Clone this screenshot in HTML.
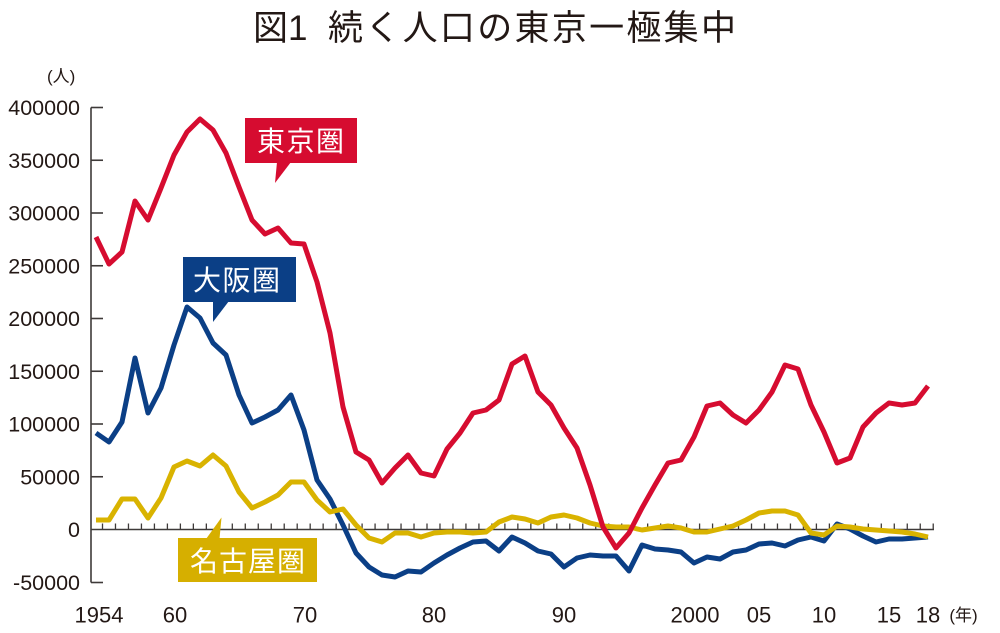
<!DOCTYPE html>
<html>
<head>
<meta charset="utf-8">
<style>
html,body{margin:0;padding:0;background:#fff;}
body{width:1000px;height:633px;overflow:hidden;}
svg{display:block;}
text{font-family:"Liberation Sans","Noto Sans CJK JP",sans-serif;}
</style>
</head>
<body>
<svg width="1000" height="633" viewBox="0 0 1000 633" xmlns="http://www.w3.org/2000/svg">
<rect width="1000" height="633" fill="#fff"/>
<!-- Title -->
<text x="253" y="40" font-size="35" fill="#231815">図1</text>
<text x="328" y="40" font-size="35" fill="#231815" textLength="408" lengthAdjust="spacing">続く人口の東京一極集中</text>
<!-- unit -->
<text x="47" y="82" font-size="17" fill="#231815">(人)</text>
<!-- Y axis -->
<g stroke="#3e3a39" stroke-width="1.6" fill="none">
<line x1="91" y1="107.5" x2="91" y2="582.5"/>
<line x1="91" y1="107.5" x2="103" y2="107.5"/>
<line x1="91" y1="160.25" x2="103" y2="160.25"/>
<line x1="91" y1="213" x2="103" y2="213"/>
<line x1="91" y1="265.75" x2="103" y2="265.75"/>
<line x1="91" y1="318.5" x2="103" y2="318.5"/>
<line x1="91" y1="371.25" x2="103" y2="371.25"/>
<line x1="91" y1="424" x2="103" y2="424"/>
<line x1="91" y1="476.75" x2="103" y2="476.75"/>
<line x1="91" y1="582.5" x2="103" y2="582.5"/>
<line x1="91" y1="529.5" x2="934" y2="529.5"/>
</g>
<g stroke="#3e3a39" stroke-width="1.3" id="xticks"></g>
<g font-size="21.5" fill="#231815" text-anchor="end">
<text x="80" y="115">400000</text>
<text x="80" y="167.75">350000</text>
<text x="80" y="220.5">300000</text>
<text x="80" y="273.25">250000</text>
<text x="80" y="326">200000</text>
<text x="80" y="378.75">150000</text>
<text x="80" y="431.5">100000</text>
<text x="80" y="484.25">50000</text>
<text x="80" y="537">0</text>
<text x="80" y="589.75">-50000</text>
</g>
<!-- X labels -->
<g font-size="22" fill="#231815" text-anchor="middle">
<text x="99" y="622.5">1954</text>
<text x="175" y="622.5">60</text>
<text x="305" y="622.5">70</text>
<text x="434" y="622.5">80</text>
<text x="564" y="622.5">90</text>
<text x="695" y="622.5">2000</text>
<text x="759" y="622.5">05</text>
<text x="824" y="622.5">10</text>
<text x="889" y="622.5">15</text>
<text x="928" y="622.5">18</text>
</g>
<text x="963.5" y="621" font-size="17" fill="#231815" text-anchor="middle">(年)</text>

<!-- series -->
<g fill="none" stroke-width="5" stroke-linejoin="round" stroke-linecap="butt" id="series"></g>

<!-- Labels -->
<rect x="245" y="118" width="112" height="45" fill="#d60c30"/>
<polygon points="277,162 275,183 291,162" fill="#d60c30"/>
<text x="257" y="151" font-size="28" fill="#fff" textLength="87" lengthAdjust="spacing">東京圏</text>

<rect x="183" y="257" width="113" height="45" fill="#0b3f86"/>
<polygon points="213,301 213,322 229,301" fill="#0b3f86"/>
<text x="193" y="290" font-size="28" fill="#fff" textLength="87" lengthAdjust="spacing">大阪圏</text>

<rect x="178" y="538" width="139" height="44" fill="#d6af00"/>
<polygon points="206,539 221.5,517.5 219.5,539" fill="#d6af00"/>
<text x="190" y="571" font-size="28" fill="#fff" textLength="115" lengthAdjust="spacing">名古屋圏</text>
</svg>
<script>
(function(){
var NS="http://www.w3.org/2000/svg";
var t=document.getElementById("xticks");
for(var k=0;k<=64;k++){
 var x=102.5+12.98*k;
 var l=document.createElementNS(NS,"line");
 l.setAttribute("x1",x);l.setAttribute("x2",x);
 l.setAttribute("y1",523.5);l.setAttribute("y2",529.5);
 t.appendChild(l);
}
var red=[237,264,252,201,220,188,155,132,119,130,153,187,220,234,228,243,244,282,333,407,452,460,483,468,455,473,476,449,433,413,410,400,364,356,392,405,428,448,485,527,548,533,508,485,463,460,437,406,403,415,423,410,392,365,369,405,432,463,458,427,413,403,405,403,386];
var blue=[433,442,422,358,413,388,345,307,318,343,355,395,423,417,410,395,430,480,499,525,553,567,575,577,571,572,563,555,548,542,541,551,537,543,551,554,567,558,555,556,556,571,545,549,550,552,563,557,559,552,550,544,543,546,540,537,541,524,529,536,542,539,539,538,537];
var yel=[520,520,499,499,518,498,467,461,466,455,466,492,508,502,495,482,482,500,512,509,525,538,542,533,533,537,533,532,532,533,532,522,517,519,523,517,515,518,523,526,527,527,530,528,526,528,532,532,529,526,520,513,511,511,515,533,535,526,527,529,530,531,532,534,537];
var g=document.getElementById("series");
function add(d,c){
 var p=[];for(var i=0;i<d.length;i++){p.push((96+13*i)+","+d[i]);}
 var e=document.createElementNS(NS,"polyline");
 e.setAttribute("points",p.join(" "));e.setAttribute("stroke",c);
 g.appendChild(e);
}
add(blue,"#0b3f86");
add(yel,"#d9b300");
add(red,"#d60c30");
})();
</script>
</body>
</html>
